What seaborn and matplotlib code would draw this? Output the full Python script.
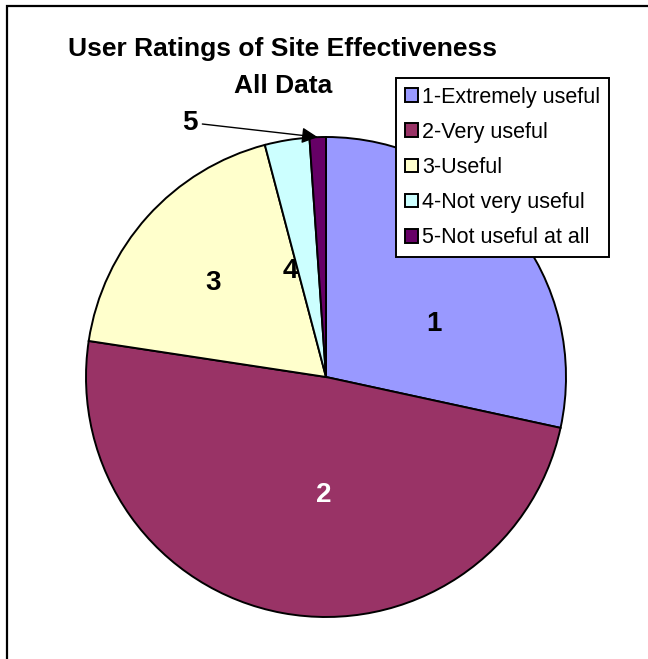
import matplotlib
matplotlib.use("Agg")
import matplotlib.pyplot as plt
from matplotlib.patches import Rectangle, Patch
import numpy as np
import seaborn as sns

# Survey results: share of respondents per rating
categories = ["1-Extremely useful", "2-Very useful", "3-Useful",
              "4-Not very useful", "5-Not useful at all"]
slice_labels = ["1", "2", "3", "4", "5"]
shares = [28.4, 49.0, 18.5, 3.0, 1.1]
colors = ["#9999FF", "#993366", "#FFFFCC", "#CCFFFF", "#660066"]

sns.set_theme(style="white")
plt.rcParams["font.family"] = ["Liberation Sans", "DejaVu Sans"]
plt.rcParams["text.color"] = "black"

palette = sns.color_palette(colors)

fig = plt.figure(figsize=(6.48, 6.59), dpi=100)
W, H = 648, 659

# chart area outline (only left and top edges fall inside the image)
fig.patches.append(Rectangle((7 / W, -0.1), 1.2, 1 - 6 / H + 0.1,
                             transform=fig.transFigure, fill=False,
                             edgecolor="black", linewidth=1.6, zorder=0))

ax = fig.add_axes([86 / W, (H - 617) / H, 480 / W, 480 / H])
wedges, _ = ax.pie(shares, colors=palette, startangle=90, counterclock=False,
                   radius=1.0,
                   wedgeprops=dict(edgecolor="black", linewidth=1.4))
for w in wedges:
    w.set_clip_on(False)
ax.set_xlim(-1, 1)
ax.set_ylim(-1, 1)
ax.set_aspect("equal")
ax.axis("off")

# slice labels
label_pos = {"1": (0.45, 0.22), "2": (-0.01, -0.49), "3": (-0.47, 0.39), "4": (-0.15, 0.44)}
label_col = {"1": "black", "2": "white", "3": "black", "4": "black"}
for lab in slice_labels[:4]:
    x, y = label_pos[lab]
    ax.text(x, y, lab, ha="center", va="center", fontsize=20,
            fontweight="bold", color=label_col[lab])

# small slice 5 gets an arrow to its outer edge
w5 = wedges[4]
mid = np.deg2rad((w5.theta1 + w5.theta2) / 2)
ax.annotate(slice_labels[4], xy=(np.cos(mid), np.sin(mid)), xytext=(-0.567, 1.06),
            ha="center", va="center", fontsize=20, fontweight="bold",
            color="black", annotation_clip=False,
            arrowprops=dict(arrowstyle="-|>", color="black", lw=1.0,
                            mutation_scale=24, shrinkA=1, shrinkB=0))

fig.text(283 / W, 1 - 49 / H, "User Ratings of Site Effectiveness",
         ha="center", va="center", fontsize=19, fontweight="bold", color="black")
fig.text(283 / W, 1 - 86 / H, "All Data",
         ha="center", va="center", fontsize=19, fontweight="bold", color="black")

handles = [Patch(facecolor=c, edgecolor="black", linewidth=1.4) for c in colors]
leg = fig.legend(handles, categories, loc="upper left",
                 bbox_to_anchor=(396 / W, 1 - 78 / H),
                 bbox_transform=fig.transFigure, borderaxespad=0,
                 frameon=True, fancybox=False, framealpha=1,
                 edgecolor="black", fontsize=15.5, handlelength=0.6,
                 handleheight=0.6, handletextpad=0.23, labelspacing=0.66,
                 borderpad=0.4)
for t in leg.get_texts():
    t.set_color("black")
leg.get_frame().set_linewidth(1.4)

fig.savefig("out.png", dpi=100, facecolor="white")
